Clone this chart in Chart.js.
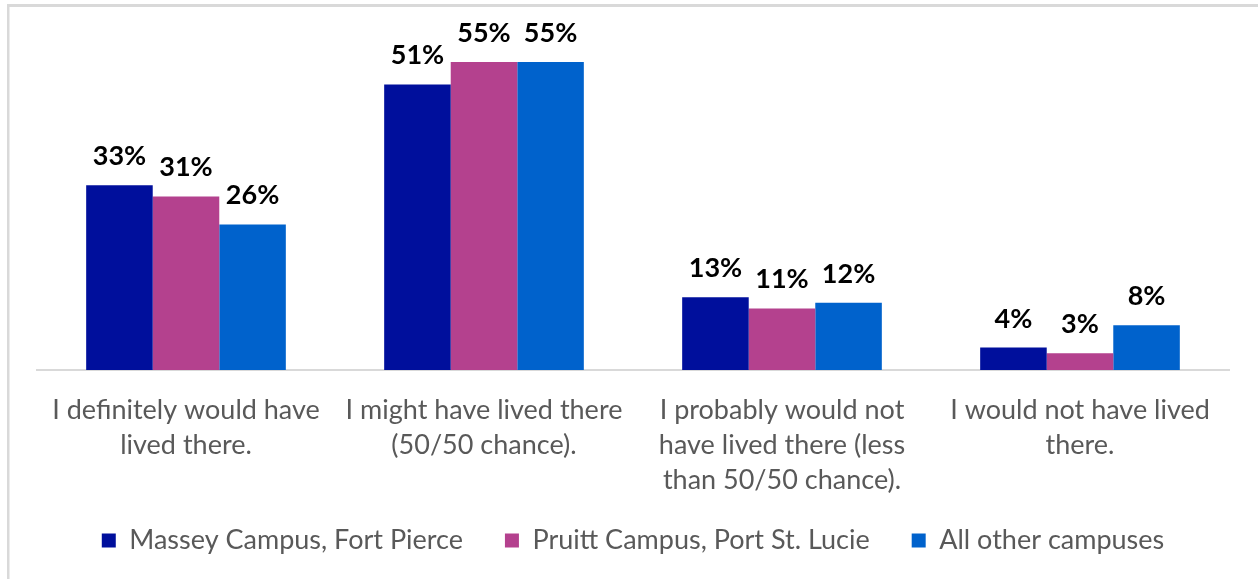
<!DOCTYPE html>
<html>
<head>
<meta charset="utf-8">
<title>Campus housing interest</title>
<script src="https://cdn.jsdelivr.net/npm/chart.js@4"></script>
<style>
  body { margin: 0; background: #ffffff; }
  #wrap { position: relative; width: 1258px; height: 579px; }
</style>
</head>
<body>
<div id="wrap"><canvas id="myChart"></canvas></div>
<script>
'use strict';

// chart data
let categories = [
  ['I definitely would have', 'lived there.'],
  ['I might have lived there', '(50/50 chance).'],
  ['I probably would not', 'have lived there (less', 'than 50/50 chance).'],
  ['I would not have lived', 'there.']
];
let seriesNames = ['Massey Campus, Fort Pierce', 'Pruitt Campus, Port St. Lucie', 'All other campuses'];
let masseyValues = [33, 51, 13, 4];
let pruittValues = [31, 55, 11, 3];
let otherValues = [26, 55, 12, 8];

let seriesColors = ['#000f9c', '#b4418e', '#0062cc'];
let textGray = '#595959';
let fontName = 'Lato';

let ctx = document.getElementById('myChart');

// light frame along the top and left edge
let framePlugin = {
  id: 'frame',
  afterLayout(chart) {
    // let the three-line category label run past the axis box instead of being clipped
    chart.scales.x.bottom = chart.height;
  },
  beforeDraw(chart) {
    let c = chart.ctx;
    c.save();
    c.fillStyle = '#ffffff';
    c.fillRect(0, 0, chart.width, chart.height);
    c.fillStyle = '#d9d9d9';
    c.fillRect(7, 4, chart.width - 7, 3);
    c.fillRect(7, 4, 2.5, chart.height - 4);
    c.restore();
  }
};

// percent labels above each bar
let valueLabelPlugin = {
  id: 'valueLabels',
  afterDatasetsDraw(chart) {
    let c = chart.ctx;
    c.save();
    c.font = 'bold 27px ' + fontName;
    c.fillStyle = '#000000';
    c.textAlign = 'center';
    c.textBaseline = 'alphabetic';
    chart.data.datasets.forEach((ds, i) => {
      let meta = chart.getDatasetMeta(i);
      meta.data.forEach((bar, j) => {
        c.fillText(ds.data[j] + '%', bar.x, bar.y - 20);
      });
    });
    c.restore();
  }
};

let myChartObj = {
  type: 'bar',
  data: {
    labels: categories,
    datasets: [
      { label: seriesNames[0], data: masseyValues, backgroundColor: seriesColors[0] },
      { label: seriesNames[1], data: pruittValues, backgroundColor: seriesColors[1] },
      { label: seriesNames[2], data: otherValues, backgroundColor: seriesColors[2] }
    ]
  },
  options: {
    responsive: false,
    animation: false,
    devicePixelRatio: 1,
    layout: {
      padding: { top: 34, left: 37, right: 29, bottom: 15 }
    },
    datasets: {
      bar: { barPercentage: 1, categoryPercentage: 0.67 }
    },
    scales: {
      x: {
        grid: { display: false, drawTicks: false },
        border: { display: true, color: '#d9d9d9', width: 2 },
        ticks: {
          color: textGray,
          padding: 23,
          maxRotation: 0,
          autoSkip: false,
          font: { family: fontName, size: 27, lineHeight: 35 / 27 }
        },
        afterFit(scale) {
          scale.height = 115;
        }
      },
      y: {
        display: false,
        min: 0,
        max: 60
      }
    },
    plugins: {
      legend: {
        position: 'bottom',
        labels: {
          color: textGray,
          boxWidth: 14,
          boxHeight: 14,
          padding: 42,
          font: { family: fontName, size: 27 }
        }
      },
      tooltip: { enabled: false }
    }
  },
  plugins: [framePlugin, valueLabelPlugin]
};

ctx.width = 1258;
ctx.height = 579;
new Chart(ctx, myChartObj);
</script>
</body>
</html>
